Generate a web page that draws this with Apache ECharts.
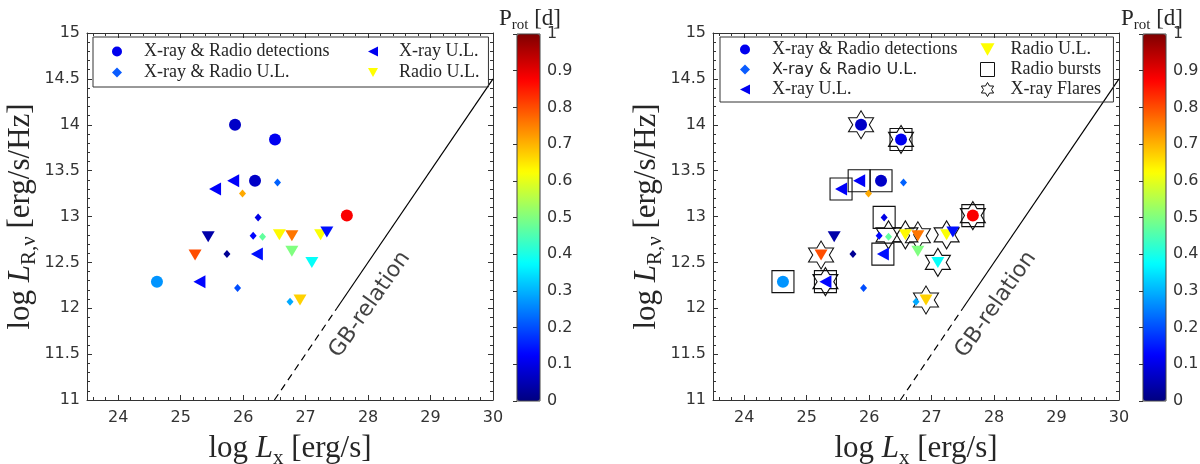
<!DOCTYPE html>
<html>
<head>
<meta charset="utf-8">
<script src="https://cdn.jsdelivr.net/npm/echarts@6/dist/echarts.min.js"></script>
<style>
html,body{margin:0;padding:0;background:#fff;}
#main{width:1200px;height:464px;}
</style>
</head>
<body>
<div id="main"></div>
<script>
// [log Lx, log LR, Prot]
var detections = [[25.87,14.00,0.07],[26.51,13.84,0.11],[26.19,13.39,0.07],[27.66,13.01,0.88],[24.62,12.29,0.27]];
var bothUL = [[26.55,13.37,0.22],[25.99,13.25,0.71],[26.24,12.99,0.10],[26.16,12.79,0.13],[26.31,12.78,0.47],[25.74,12.59,0.02],[25.91,12.22,0.20],[26.75,12.07,0.29]];
var xrayUL = [[25.84,13.39,0.12],[25.55,13.30,0.12],[26.22,12.59,0.14],[25.30,12.29,0.13]];
var radioUL = [[25.44,12.78,0.04],[26.58,12.80,0.63],[26.78,12.79,0.76],[27.24,12.80,0.62],[27.34,12.83,0.14],[25.23,12.58,0.80],[26.78,12.62,0.50],[27.10,12.50,0.38],[26.91,12.09,0.67]];
// overlays, right panel only
var bursts = [[26.51,13.84],[25.55,13.30],[25.84,13.39],[26.19,13.39],[26.24,12.99],[27.66,13.01],[26.22,12.59],[24.62,12.29],[25.30,12.29]];
var flares = [[25.87,14.00],[26.51,13.84],[26.31,12.80],[26.58,12.80],[26.78,12.79],[27.24,12.80],[27.66,13.01],[25.23,12.58],[27.10,12.50],[25.30,12.29],[26.91,12.09]];
// GB relation
var gbSolid = [[27.5,12.0],[30,14.5]];
var gbDashed = [[26.5,11.0],[27.5,12.0]];
var gbLabelPos = [[28.03,12.04]];

var jet = ['#000080','#0000ff','#0080ff','#00ffff','#80ff80','#ffff00','#ff8000','#ff0000','#800000'];
var leftTri = 'path://M0,5L10,0L10,10Z';
var downTri = 'path://M0,0L10,0L5,9Z';
var hexagram = 'path://M87,0L116,50L174,50L145,100L174,150L116,150L87,200L58,150L0,150L29,100L0,50L58,50Z';
var ink = '#262626';
var serif = 'Liberation Serif';

var chart = echarts.init(document.getElementById('main'));

function xAx(g, top){
  return {
    gridIndex:g, type:'value', min:23.5, max:30, splitNumber:6, position: top ? 'top' : 'bottom',
    axisLine:{lineStyle:{color:'#333',width:1}},
    axisTick:{inside:true,length:5,lineStyle:{color:'#333'}},
    minorTick:{show:true,splitNumber:5,length:3,lineStyle:{color:'#333'}},
    splitLine:{show:false},
    axisLabel:{show:!top,showMinLabel:false,fontFamily:'DejaVu Sans',fontSize:16,color:'#333',margin:10},
    name: top ? '' : '{r|log }{i|L}{s|x}{r| [erg/s]}',
    nameLocation:'middle', nameGap:29,
    nameTextStyle:{rich:axisRich()}
  };
}
function yAx(g, right){
  return {
    gridIndex:g, type:'value', min:11, max:15, interval:0.5, position: right ? 'right' : 'left',
    axisLine:{lineStyle:{color:'#333',width:1}},
    axisTick:{inside:true,length:5,lineStyle:{color:'#333'}},
    minorTick:{show:true,splitNumber:5,length:3,lineStyle:{color:'#333'}},
    splitLine:{show:false},
    axisLabel:{show:!right,fontFamily:'DejaVu Sans',fontSize:16,color:'#333',margin:7},
    name: right ? '' : '{r|log }{i|L}{s|R,\u03bd}{r| [erg/s/Hz]}',
    nameLocation:'middle', nameGap:32, nameRotate:90,
    nameTextStyle:{rich:axisRich()}
  };
}
function axisRich(){
  return {
    r:{fontFamily:serif,fontSize:31,fontWeight:'normal',color:ink,lineHeight:40},
    i:{fontFamily:serif,fontSize:31,fontWeight:'normal',color:ink,fontStyle:'italic',lineHeight:40},
    s:{fontFamily:serif,fontSize:21,fontWeight:'normal',color:ink,verticalAlign:'bottom',lineHeight:20}
  };
}
function cbarY(g){
  return {
    gridIndex:g, type:'value', min:0, max:1, interval:0.1, position:'right', z:10,
    axisLine:{show:false},
    axisTick:{inside:true,length:4,lineStyle:{color:'#333'}},
    splitLine:{show:false},
    axisLabel:{fontFamily:'DejaVu Sans',fontSize:16,color:'#333',margin:7}
  };
}
function cbarTitle(x){
  return {
    text:'{r|P}{s|rot}{r| [d]}', left:x, top:0,
    textStyle:{fontWeight:'normal',rich:{
      r:{fontFamily:serif,fontSize:23,fontWeight:'normal',color:ink,lineHeight:28},
      s:{fontFamily:serif,fontSize:15,fontWeight:'normal',color:ink,verticalAlign:'bottom',lineHeight:15}
    }}
  };
}
function gbSeries(xi, yi){
  return [
    {type:'line',xAxisIndex:xi,yAxisIndex:yi,data:gbSolid,symbol:'none',silent:true,lineStyle:{color:'#000',width:1.2}},
    {type:'line',xAxisIndex:xi,yAxisIndex:yi,data:gbDashed,symbol:'none',silent:true,lineStyle:{color:'#000',width:1.2,type:[7,5]}},
    {type:'scatter',xAxisIndex:xi,yAxisIndex:yi,data:gbLabelPos,symbolSize:0,silent:true,
     label:{show:true,position:'inside',formatter:'GB-relation',rotate:55,fontFamily:'DejaVu Sans',fontSize:22,color:'#111'}}
  ];
}
var solid = {opacity:1};
function markerSeries(xi, yi){
  return [
    {name:'X-ray & Radio detections',type:'scatter',xAxisIndex:xi,yAxisIndex:yi,data:detections,symbol:'circle',symbolSize:12,itemStyle:solid},
    {name:'X-ray & Radio U.L.',type:'scatter',xAxisIndex:xi,yAxisIndex:yi,data:bothUL,symbol:'diamond',symbolSize:[7,8],itemStyle:solid},
    {name:'X-ray U.L.',type:'scatter',xAxisIndex:xi,yAxisIndex:yi,data:xrayUL,symbol:leftTri,symbolSize:[12,13],itemStyle:solid},
    {name:'Radio U.L.',type:'scatter',xAxisIndex:xi,yAxisIndex:yi,data:radioUL,symbol:downTri,symbolSize:[13,11],itemStyle:solid}
  ];
}
function legTxt(pad, sans){
  return {fontFamily: sans ? 'DejaVu Sans' : serif, fontSize: sans ? 16 : 18, color:ink, lineHeight:18, padding:[0,0,0,pad]};
}

var series = [].concat(
  gbSeries(0,0),
  markerSeries(0,0),
  [
    {name:'Radio bursts',type:'scatter',xAxisIndex:3,yAxisIndex:3,data:bursts,symbol:'rect',symbolSize:22,silent:true,
     itemStyle:{color:'rgba(0,0,0,0)',borderColor:'#111',borderWidth:1.1,opacity:1}},
    {name:'X-ray Flares',type:'scatter',xAxisIndex:3,yAxisIndex:3,data:flares,symbol:hexagram,symbolSize:[25,28],silent:true,
     itemStyle:{color:'rgba(0,0,0,0)',borderColor:'#111',borderWidth:1.1,opacity:1}}
  ],
  gbSeries(3,3),
  markerSeries(3,3)
);

var option = {
  animation:false,
  backgroundColor:'#fff',
  title:[cbarTitle(494), cbarTitle(1116)],
  grid:[
    {left:87,top:33,width:406,height:367,outerBoundsMode:'none'},
    {left:517,top:34,width:23,height:367,outerBoundsMode:'none',show:true,borderColor:'#444',borderWidth:1,backgroundColor:'rgba(0,0,0,0)',z:10},
    {left:713,top:33,width:406,height:367,outerBoundsMode:'none'},
    {left:1143,top:34,width:23,height:367,outerBoundsMode:'none',show:true,borderColor:'#444',borderWidth:1,backgroundColor:'rgba(0,0,0,0)',z:10}
  ],
  xAxis:[xAx(0,false), xAx(0,true), {gridIndex:1,type:'value',show:false},
         xAx(2,false), xAx(2,true), {gridIndex:3,type:'value',show:false}],
  yAxis:[yAx(0,false), yAx(0,true), cbarY(1),
         yAx(2,false), yAx(2,true), cbarY(3)],
  visualMap:[
    {type:'continuous',min:0,max:1,dimension:2,seriesIndex:[3,4,5,6],inRange:{color:jet},
     left:517,top:34,itemWidth:23,itemHeight:367,padding:0,calculable:false,hoverLink:false,orient:'vertical'},
    {type:'continuous',min:0,max:1,dimension:2,seriesIndex:[12,13,14,15],inRange:{color:jet},
     left:1143,top:34,itemWidth:23,itemHeight:367,padding:0,calculable:false,hoverLink:false,orient:'vertical'}
  ],
  legend:[
    // left panel, first column carries the box
    {left:93,top:37,orient:'vertical',itemWidth:10,itemHeight:10,itemGap:3,selectedMode:false,
     padding:[5.5,159,5.5,19],borderColor:'#333',borderWidth:1,
     data:[
       {name:'X-ray & Radio detections',icon:'circle',itemStyle:{color:'#0000ee'},textStyle:legTxt(17)},
       {name:'X-ray & Radio U.L.',icon:'diamond',itemStyle:{color:'#0a5cff'},textStyle:legTxt(17)}
     ]},
    {left:368,top:42.5,orient:'vertical',itemWidth:10,itemHeight:10,itemGap:3,selectedMode:false,padding:0,
     data:[
       {name:'X-ray U.L.',icon:leftTri,itemStyle:{color:'#0000f0'},textStyle:legTxt(16)},
       {name:'Radio U.L.',icon:downTri,itemStyle:{color:'#ffff00'},textStyle:legTxt(16)}
     ]},
    // right panel
    {left:720,top:37,orient:'vertical',itemWidth:10,itemHeight:10,itemGap:2,selectedMode:false,
     padding:[3.5,156,3.5,20],borderColor:'#333',borderWidth:1,
     data:[
       {name:'X-ray & Radio detections',icon:'circle',itemStyle:{color:'#0000ee'},textStyle:legTxt(17)},
       {name:'X-ray & Radio U.L.',icon:'diamond',itemStyle:{color:'#0a5cff'},textStyle:legTxt(17,true)},
       {name:'X-ray U.L.',icon:leftTri,itemStyle:{color:'#0000f0'},textStyle:legTxt(17)}
     ]},
    {left:980,top:40.5,orient:'vertical',itemWidth:14,itemHeight:14,itemGap:2,selectedMode:false,padding:0,
     data:[
       {name:'Radio U.L.',icon:downTri,itemStyle:{color:'#ffff00'},textStyle:legTxt(11)},
       {name:'Radio bursts',icon:'rect',itemStyle:{color:'rgba(0,0,0,0)',borderColor:'#111',borderWidth:1},textStyle:legTxt(11)},
       {name:'X-ray Flares',icon:hexagram,itemStyle:{color:'rgba(0,0,0,0)',borderColor:'#111',borderWidth:1},textStyle:legTxt(11)}
     ]}
  ],
  series:series
};
chart.setOption(option);
</script>
</body>
</html>
